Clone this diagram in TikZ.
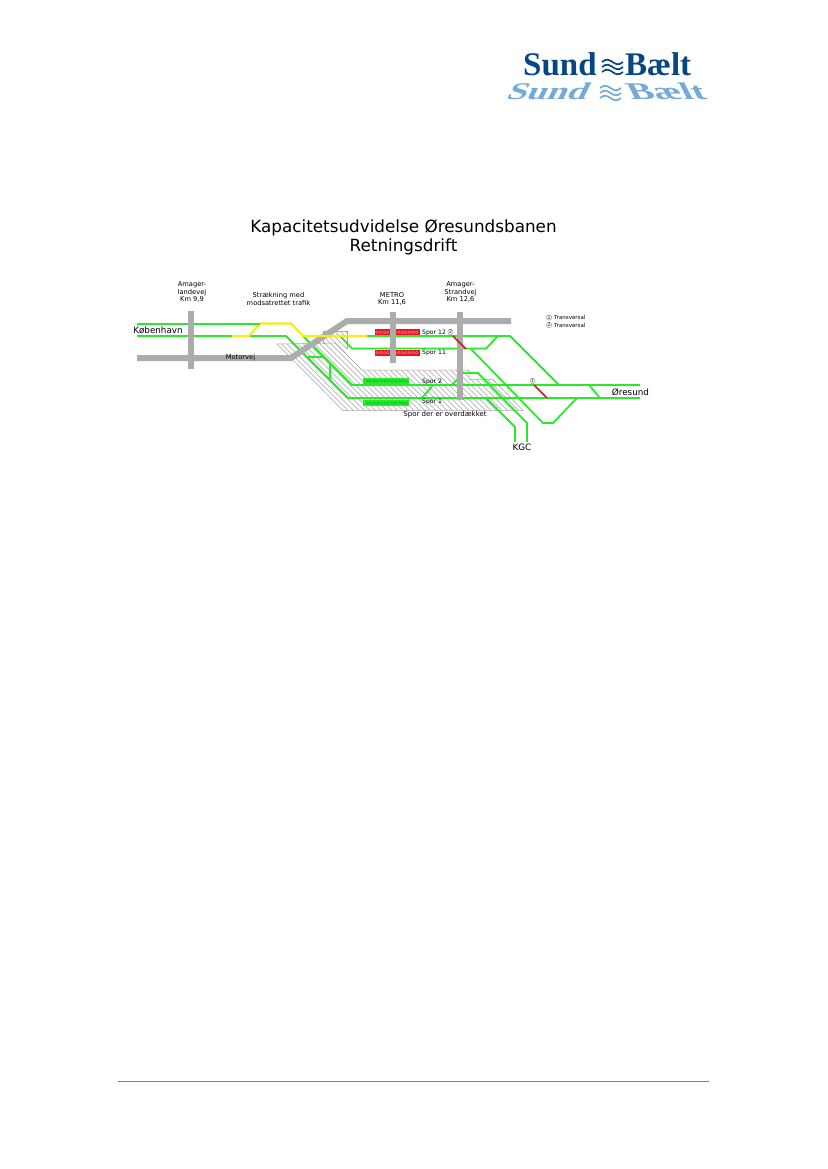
\documentclass[tikz,border=0pt]{standalone}
\usepackage{fontspec}
\setmainfont{DejaVu Sans}
\newfontfamily\logofont{Liberation Serif}
\definecolor{trk}{RGB}{40,235,40}
\definecolor{trkd}{RGB}{25,170,40}
\definecolor{rd}{RGB}{172,172,172}
\definecolor{yel}{RGB}{250,235,30}
\definecolor{redb}{RGB}{232,20,40}
\definecolor{redl}{RGB}{250,150,150}
\definecolor{redx}{RGB}{200,30,40}
\definecolor{hat}{RGB}{165,165,165}
\definecolor{logod}{RGB}{6,70,130}
\definecolor{logol}{RGB}{115,170,215}
\tikzset{
 track/.style={draw=trk,line width=1.8pt,line join=miter},
 yellowtrack/.style={draw=yel,line width=2.2pt},
 road/.style={draw=rd,line width=6pt},
 crossover/.style={draw=redx,line width=1.6pt},
 lab/.style={font=\fontsize{6.7}{7.6}\selectfont,align=center,text=black,inner sep=0pt},
 sporlab/.style={font=\fontsize{6.1}{7}\selectfont,text=black,inner sep=0pt,anchor=west},
 biglab/.style={font=\fontsize{8.8}{10}\selectfont,inner sep=0pt,text=black},
 hatchedge/.style={draw=hat,line width=0.5pt},
 logo/.style={inner sep=0pt,anchor=base west},
 titletext/.style={font=\fontsize{16.8}{19}\selectfont,inner sep=0pt,text=black},
 numc/.style={draw=black!60,circle,inner sep=0.3pt,line width=0.3pt,font=\fontsize{4.6}{5}\selectfont,text=black},
 wavy/.style={line width=1.7pt}
}
\begin{document}
\begin{tikzpicture}[x=1pt,y=-1pt]
\useasboundingbox (0,0) rectangle (827,1169);
\fill[white] (0,0) rectangle (827,1169);
% logo
\node[logo,text=logod,font=\logofont\bfseries\fontsize{33}{33}\selectfont] (logoa) at (523,75.5) {Sund};
\node[logo,text=logod,font=\logofont\bfseries\fontsize{33}{33}\selectfont] (logoc) at (625,75.5) {Bælt};
\foreach \yy in {62,67,72}{
 \draw[wavy,logod] (602,\yy) .. controls (606,\yy-3.5) and (609,\yy-2.5) .. (612.5,\yy) .. controls (616,\yy+2.5) and (619,\yy+3.5) .. (623,\yy);}
\begin{scope}[shift={(505,100)},xslant=0.5,xscale=1.5,transform shape]
\node[logo,text=logol,font=\logofont\bfseries\fontsize{24}{24}\selectfont] (logod) at (0,0) {Sund};
\end{scope}
\begin{scope}[shift={(631,100)},xslant=-0.5,xscale=1.6,transform shape]
\node[logo,text=logol,font=\logofont\bfseries\fontsize{24}{24}\selectfont] (logof) at (0,0) {Bælt};
\end{scope}
\foreach \yy in {88,93,98}{
 \draw[wavy,logol] (600,\yy) .. controls (604,\yy-3.5) and (607,\yy-2.5) .. (610.5,\yy) .. controls (614,\yy+2.5) and (617,\yy+3.5) .. (621,\yy);}
% title
\node[titletext] (title1) at (403.5,228) {Kapacitetsudvidelse Øresundsbanen};
\node[titletext] (title2) at (403.5,246.5) {Retningsdrift};
\draw[track] (137,336) -- (232,336);
% hatch
\begin{scope}
\clip (277,344) -- (343,410.5) -- (523,410.5) -- (493,379.5) -- (469,379.5) -- (469,370) -- (362,370) -- (335,343) -- cycle;
\foreach \i in {0,5.5,...,320}{\draw[hat,line width=0.45pt] (\i+120,320) -- (\i+220,420);}
\end{scope}
\begin{scope}
\clip (323,332) -- (347,332) -- (347,348) -- (345,357) -- (335,343) -- (323,344) -- cycle;
\foreach \i in {0,5.5,...,60}{\draw[hat,line width=0.45pt] (\i+290,325) -- (\i+330,365);}
\end{scope}
\draw[hatchedge] (277,344) -- (343,410.5) -- (523,410.5) -- (493,379.5) -- (469,379.5) -- (469,370) -- (362,370) -- (335,343) -- cycle;
\draw[hatchedge] (323,344) -- (323,331.5) -- (347,331.5) -- (347,349);
% boxes
\fill[redb] (375,329) rectangle (420,335.5);
\fill[redb] (375,349.5) rectangle (420,356);
\fill[trk] (363,378) rectangle (409,384);
\fill[trk] (363,400) rectangle (409,406);
\foreach \i in {0,3.6,...,40}{
 \draw[redl,line width=0.3pt] (377+\i,332.2) circle (1.4);
 \draw[redl,line width=0.3pt] (377+\i,352.7) circle (1.4);
 \draw[trkd,line width=0.3pt] (367+\i,381) circle (1.4);
 \draw[trkd,line width=0.3pt] (367+\i,403) circle (1.4);
}
% tracks
\draw[track] (249,336) -- (286,336) -- (348,398) -- (640,398);
\draw[track] (303,336) -- (352,385) -- (640,385);
\draw[track] (367,336) -- (510,336) -- (559,385);
\draw[track] (340,336) -- (352,348.5) -- (486,348.5) -- (498,336);
\draw[track] (307,357) -- (324,357);
\draw[track] (330,363) -- (330,380);
\draw[track] (471,349) -- (543,423) -- (553,423) -- (577,398);
\draw[track] (422,398) -- (433,385);
\draw[track] (452,385) -- (463,373) -- (478,373) -- (527,423) -- (527,442);
\draw[track] (486,398) -- (515,427) -- (515,442);
\draw[track] (589,385) -- (600,398);
% roads beneath yellow
\draw[road,line join=miter] (137,358) -- (291,358) -- (347,321) -- (511,321);
\draw[road] (393,312) -- (393,363);
\draw[road] (460,312) -- (460,400);
% yellow
\draw[yellowtrack] (232,336) -- (249,336) -- (260,323.5) -- (291,323.5) -- (303,336) -- (367,336);
% red crossovers
\draw[crossover] (453,336) -- (466,349);
\draw[crossover] (534,385) -- (547,398);
% upper left track, then the road across it
\draw[draw=trk,line width=2.2pt] (137,323.8) -- (191,323.8) -- (260,323.8);
\draw[road] (191,311) -- (191,369);
% texts
\node[lab] (t1) at (192,292) {Amager-\\landevej\\Km 9,9};
\node[lab] (t2) at (278.5,299) {Strækning med\\modsatrettet trafik};
\node[lab] (t3) at (392,299) {METRO\\Km 11,6};
\node[lab] (t4) at (460.5,292) {Amager-\\Strandvej\\Km 12,6};
\node[biglab] (t5) at (158,330) {København};
\node[lab] (t6) at (240.5,358) {Motorvej};
\node[sporlab] (s12) at (422,332.5) {Spor 12};
\node[sporlab] (s11) at (422,352.5) {Spor 11};
\node[sporlab] (s2) at (422,381.7) {Spor 2};
\node[sporlab] (s1) at (422,402) {Spor 1};
\node[lab,font=\fontsize{7}{8}\selectfont] (t7) at (445,415) {Spor der er overdækket};
\node[biglab] (t8) at (630.5,392) {Øresund};
\node[biglab] (t9) at (522,447.5) {KGC};
\node[numc] (n2) at (450.5,332) {2};
\node[numc] (n1) at (532.5,381) {1};
\node[numc] (l1) at (549,317.5) {1};
\node[numc] (l2) at (549,325) {2};
\node[lab,anchor=west,font=\fontsize{5.5}{6}\selectfont] (l1t) at (554,317.5) {Transversal};
\node[lab,anchor=west,font=\fontsize{5.5}{6}\selectfont] (l2t) at (554,325) {Transversal};
% footer
\draw[draw=black!50,line width=0.6pt] (118,1081.5) -- (709,1081.5);
\end{tikzpicture}
\end{document}
